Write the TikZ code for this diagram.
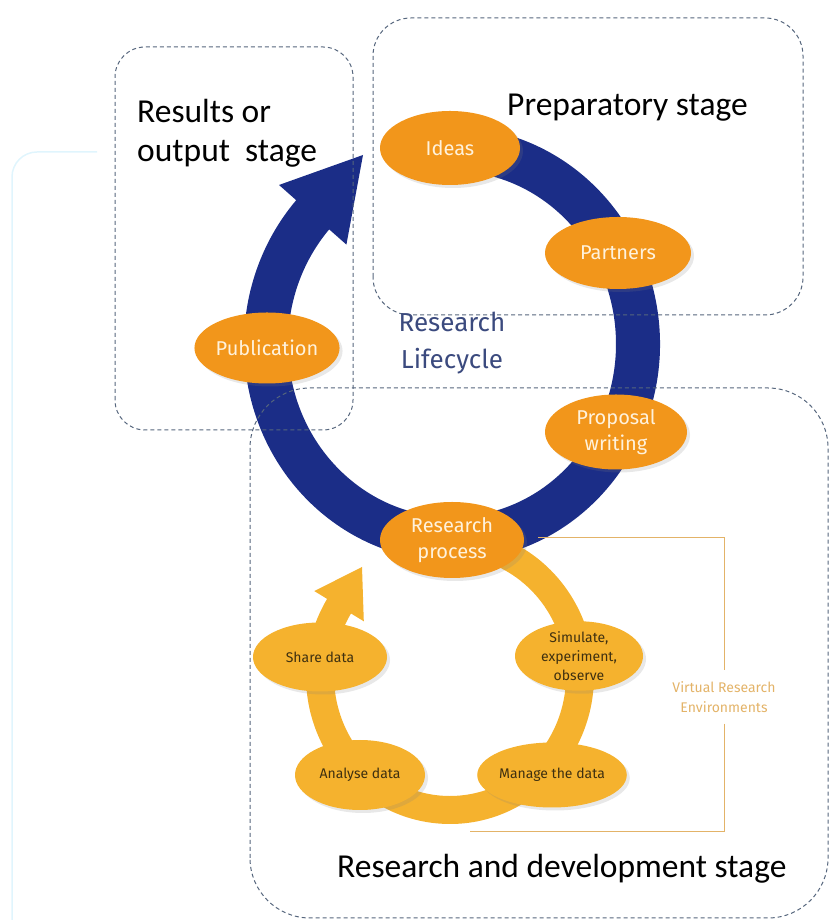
\documentclass[tikz,border=0pt]{standalone}
\usepackage{fontspec}
\setmainfont{Carlito}
\newfontfamily\dinfont{Fira Sans}
\usepackage{tikz}
\usetikzlibrary{shapes.geometric, calc, shadows}

\definecolor{lcblue}{HTML}{1B2D87}
\definecolor{lcorange}{HTML}{F2961B}
\definecolor{lcyellow}{HTML}{F5B22E}
\definecolor{stagegray}{HTML}{56667D}
\definecolor{vretan}{HTML}{E3B368}
\definecolor{lifetext}{HTML}{3B4A7E}
\definecolor{darktext}{HTML}{3F3010}
\definecolor{creamtext}{HTML}{FFF2DC}

\begin{document}
\begin{tikzpicture}[x=1pt, y=1pt,
    stagebox/.style={draw=stagegray, dash pattern=on 4pt off 3pt, line width=1pt},
    stagelabel/.style={font=\fontsize{33.5}{39}\selectfont, text=black, align=left, inner sep=0pt, anchor=west},
    bigstep/.style={ellipse, fill=lcorange, text=creamtext, inner sep=0pt, align=center,
        font=\dinfont\fontsize{20}{26}\selectfont,
        drop shadow={opacity=0.18, shadow xshift=3pt, shadow yshift=-3pt}},
    smallstep/.style={ellipse, fill=lcyellow, text=darktext, inner sep=0pt, align=center,
        font=\dinfont\fontsize{14}{19}\selectfont,
        drop shadow={opacity=0.18, shadow xshift=3pt, shadow yshift=-3pt}}]
    \useasboundingbox (0,0) rectangle (830,920);

    % Faint frame on the left
    \draw[cyan!12, line width=1.5pt, rounded corners=25] (97,768) -- (12,768) -- (12,0);

    % Research lifecycle ring (blue)
    \coordinate (bc) at (452,576);
    \coordinate (bluetip) at (363,765);
    \fill[lcblue] ($(bc)+(100:208 and 217)$) arc[start angle=100, end angle=-221.5, x radius=208, y radius=217]
        -- ($(bc)+(-221.5:231 and 240)$) -- (bluetip) -- ($(bc)+(-221.5:141 and 150)$)
        -- ($(bc)+(-221.5:164 and 173)$) arc[start angle=-221.5, end angle=100, x radius=164, y radius=173] -- cycle;

    % Research process ring (yellow)
    \coordinate (yc) at (450,244);
    \coordinate (yellowtip) at (362,353);
    \fill[lcyellow] ($(yc)+(85:144 and 148)$) arc[start angle=85, end angle=-211.4, x radius=144, y radius=148]
        -- ($(yc)+(-211.4:159 and 163)$) -- (yellowtip) -- ($(yc)+(-211.4:101 and 105)$)
        -- ($(yc)+(-211.4:116 and 120)$) arc[start angle=-211.4, end angle=85, x radius=116, y radius=120] -- cycle;

    % Stage boxes
    \draw[stagebox, rounded corners=30] (115,490) rectangle (353,873);
    \draw[stagebox, rounded corners=38] (373,605) rectangle (803,902);
    \draw[stagebox, rounded corners=60] (250,2) rectangle (828,532);

    % Stage labels
    \node[stagelabel] (resultsLabel) at (137,787) {Results or\\output\ \ stage};
    \node[stagelabel] (prepLabel) at (507,812) {Preparatory stage};
    \node[stagelabel] (rdLabel) at (337,51) {Research and development stage};

    % Lifecycle steps
    \node[bigstep, minimum width=140, minimum height=74] (ideas) at (450,772) {Ideas};
    \node[bigstep, minimum width=146, minimum height=72] (partners) at (618,667) {Partners};
    \node[bigstep, minimum width=142, minimum height=75] (proposal) at (616,488) {Proposal\\writing};
    \node[bigstep, minimum width=144, minimum height=76] (resproc) at (452,380) {Research\\process};
    \node[bigstep, minimum width=145, minimum height=71] (publication) at (267,572) {Publication};

    \node[text=lifetext, font=\dinfont\fontsize{26}{37}\selectfont, align=center] (lifecycle) at (452,577) {Research\\Lifecycle};

    % Research process steps
    \node[smallstep, minimum width=128, minimum height=68] (simulate) at (579,264) {Simulate,\\experiment,\\observe};
    \node[smallstep, minimum width=131, minimum height=65] (manage) at (552,145) {Manage the data};
    \node[smallstep, minimum width=130, minimum height=70] (analyse) at (360,145) {Analyse data};
    \node[smallstep, minimum width=134, minimum height=69] (share) at (320,263) {Share data};

    % Virtual research environments bracket
    \node[text=vretan, font=\dinfont\fontsize{14}{20}\selectfont, align=center, inner xsep=0pt, inner ysep=11pt] (vre) at (724,223) {Virtual Research\\Environments};
    \coordinate (vreTop) at (538,382);
    \coordinate (vreBottom) at (470,88);
    \draw[vretan, line width=1pt] (vreTop) -| (vre.north);
    \draw[vretan, line width=1pt] (vre.south) |- (vreBottom);
\end{tikzpicture}
\end{document}
